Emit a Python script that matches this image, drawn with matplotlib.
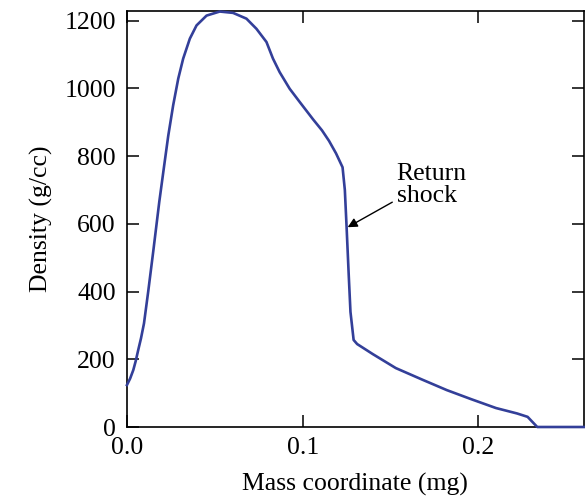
import matplotlib
matplotlib.use("Agg")
import matplotlib.pyplot as plt

mass = [0.0, 0.0018, 0.0036, 0.0050, 0.0064, 0.0080, 0.0097, 0.0121, 0.0150, 0.0184,
        0.0210, 0.0235, 0.0263, 0.0292, 0.032, 0.0358, 0.0396, 0.0453, 0.0528, 0.0604,
        0.068, 0.0737, 0.0794, 0.0831, 0.0869, 0.0926, 0.0983, 0.102, 0.106, 0.111,
        0.115, 0.119, 0.1227, 0.1240, 0.1250, 0.1262, 0.1272, 0.1290, 0.131, 0.140,
        0.153, 0.168, 0.182, 0.196, 0.210, 0.222, 0.228, 0.2335, 0.26]
density = [124, 143, 168, 195, 227, 262, 306, 400, 520, 665,
           765, 860, 950, 1029, 1088, 1147, 1186, 1215, 1227, 1223,
           1206, 1176, 1137, 1088, 1048, 999, 960, 935, 908, 876,
           845, 808, 767, 700, 590, 450, 340, 257, 245, 215,
           174, 140, 109, 82, 56, 40, 30, 0, 0]

xticks = [0.0, 0.1, 0.2]
xtick_labels = ["0.0", "0.1", "0.2"]
yticks = [0, 200, 400, 600, 800, 1000, 1200]

plt.rcParams['font.family'] = ['Liberation Serif', 'DejaVu Serif']

fig = plt.figure(figsize=(5.85, 5.01), dpi=100)
ax = fig.add_axes([0.217, 0.1477, 0.781, 0.8313])

ax.plot(mass, density, color='#333f99', lw=1.9, clip_on=False, zorder=3,
        solid_joinstyle='round')

ax.set_xlim(0, 0.26)
ax.set_ylim(0, 1230)
ax.set_xticks(xticks)
ax.set_xticklabels(xtick_labels)
ax.set_yticks(yticks)

ax.tick_params(direction='in', length=8.5, width=1.1, top=True, right=True,
               labelsize=18.5, colors='black', pad=7)
ax.tick_params(axis='y', pad=8)
for s in ax.spines.values():
    s.set_linewidth(1.2)
    s.set_color('black')

ax.set_xlabel("Mass coordinate (mg)", fontsize=18.5, labelpad=10)
ax.set_ylabel("Density (g/cc)", fontsize=18.5, labelpad=8)

ax.annotate("", xy=(0.1256, 590), xytext=(0.151, 664),
            arrowprops=dict(arrowstyle='-|>', color='black', lw=1.0,
                            mutation_scale=14, shrinkA=0, shrinkB=0))
ax.text(0.1535, 714, "Return\nshock", fontsize=18.5, ha='left', va='center',
        linespacing=1.0)

fig.savefig("out.png", dpi=100)
